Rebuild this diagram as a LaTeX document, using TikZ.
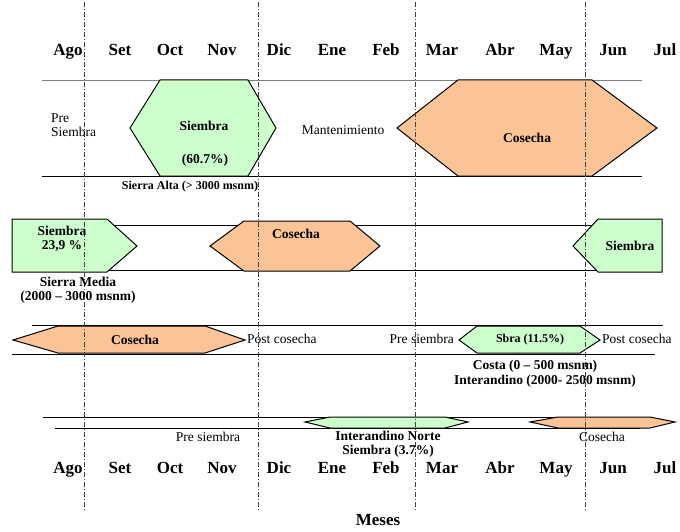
\documentclass[tikz,border=0pt]{standalone}
\usepackage{fontspec}
\setmainfont{Liberation Serif}
\usepackage{tikz}
\usetikzlibrary{positioning}

\definecolor{siembraverde}{RGB}{204,255,204}
\definecolor{cosechanaranja}{RGB}{250,196,150}

\begin{document}
\begin{tikzpicture}[
    x=1pt, y=-1pt,
    mes/.style={font=\fontsize{17}{19}\selectfont\bfseries, anchor=base},
    lbl/.style={font=\fontsize{13.5}{14}\selectfont, align=center, inner sep=1pt},
    blbl/.style={font=\fontsize{13.5}{14}\selectfont\bfseries, align=center, inner sep=1pt},
    banda/.style={draw, line width=1pt},
    bandagris/.style={draw=gray, line width=0.8pt},
    siembra/.style={draw, line width=1pt, fill=siembraverde},
    cosecha/.style={draw, line width=1pt, fill=cosechanaranja},
    corte/.style={draw=black!75, line width=1pt, dash pattern=on 5pt off 2pt on 1pt off 2pt}
]
    \useasboundingbox (0,0) rectangle (680,532);

    % Sierra Alta
    \draw[bandagris] (42,80) -- (642,80);
    \draw[banda] (42,176) -- (642,176);
    \draw[siembra] (160,80) -- (248,80) -- (276,128) -- (248,176) -- (160,176) -- (130,128) -- cycle;
    \draw[cosecha] (458,80) -- (592,80) -- (657,128) -- (592,176) -- (458,176) -- (397,128) -- cycle;

    % Sierra Media
    \draw[banda] (12,225) -- (662,225);
    \draw[banda] (12,270) -- (662,270);
    \draw[siembra] (12,219) -- (107,219) -- (137,246) -- (107,272) -- (12,272) -- cycle;
    \draw[cosecha] (244,221) -- (350,221) -- (380,246) -- (350,271) -- (244,271) -- (210,246) -- cycle;
    \draw[siembra] (598,219) -- (662,219) -- (662,272) -- (598,272) -- (573,246) -- cycle;

    % Costa
    \draw[banda] (32,325) -- (663,325);
    \draw[banda] (12,354) -- (655,354);
    \draw[cosecha] (58,326) -- (205,326) -- (245,340) -- (205,353) -- (58,353) -- (13,340) -- cycle;
    \draw[siembra] (477,326) -- (580,326) -- (600,340) -- (580,353) -- (477,353) -- (459,340) -- cycle;

    % Interandino Norte
    \draw[banda] (43,417) -- (648,417);
    \draw[banda] (55,428) -- (640,428);
    \draw[siembra] (330,417) -- (445,417) -- (468,422) -- (445,428) -- (330,428) -- (305,422) -- cycle;
    \draw[cosecha] (558,417) -- (650,417) -- (675,422) -- (650,428) -- (558,428) -- (530,422) -- cycle;

    % lineas de corte
    \foreach \xc in {84,258,415,585}
        \draw[corte] (\xc,2) -- (\xc,510);

    % meses
    \foreach \m/\xm in {Ago/68,Set/120,Oct/170,Nov/222,Dic/279,Ene/332,Feb/386,Mar/442,Abr/500,May/556,Jun/613,Jul/665} {
        \node[mes] (arr\m) at (\xm,56) {\m};
        \node[mes] (abj\m) at (\xm,473) {\m};
    }
    \node[mes] (meses) at (378,525) {Meses};

    % textos Sierra Alta
    \node[lbl, align=left, anchor=west] (preS) at (50,125) {Pre\\Siembra};
    \node[blbl] (sA) at (204,126) {Siembra};
    \node[blbl] (sApct) at (205,160) {(60.7\%)};
    \node[lbl] (mant) at (343,130) {Mantenimiento};
    \node[blbl] (cA) at (527,138) {Cosecha};
    \node[blbl, font=\fontsize{12}{13}\selectfont\bfseries] (alta) at (190,187) {Sierra Alta (> 3000 msnm)};

    % textos Sierra Media
    \node[blbl] (sM) at (62,239) {Siembra\\23,9 \%};
    \node[blbl] (cM) at (296,234) {Cosecha};
    \node[blbl] (sM2) at (630,246) {Siembra};
    \node[blbl] (media) at (78,290) {Sierra Media\\(2000 -- 3000 msnm)};

    % textos Costa
    \node[blbl] (cC) at (135,340) {Cosecha};
    \node[lbl, anchor=west] (postC) at (246,339) {Post cosecha};
    \node[lbl, anchor=east] (preC) at (455,339) {Pre siembra};
    \node[blbl, font=\fontsize{12}{13}\selectfont\bfseries] (sC) at (530,340) {Sbra (11.5\%)};
    \node[lbl, anchor=west] (postC2) at (601,339) {Post cosecha};
    \node[blbl] (costa) at (535,366) {Costa (0 -- 500 msnm)};
    \node[blbl] (inter) at (545,381) {Interandino (2000- 2500 msnm)};

    % textos Interandino Norte
    \node[lbl] (preN) at (208,437) {Pre siembra};
    \node[blbl] (sN) at (388,444) {Interandino Norte\\Siembra (3.7\%)};
    \node[lbl] (cN) at (602,437) {Cosecha};
\end{tikzpicture}
\end{document}
